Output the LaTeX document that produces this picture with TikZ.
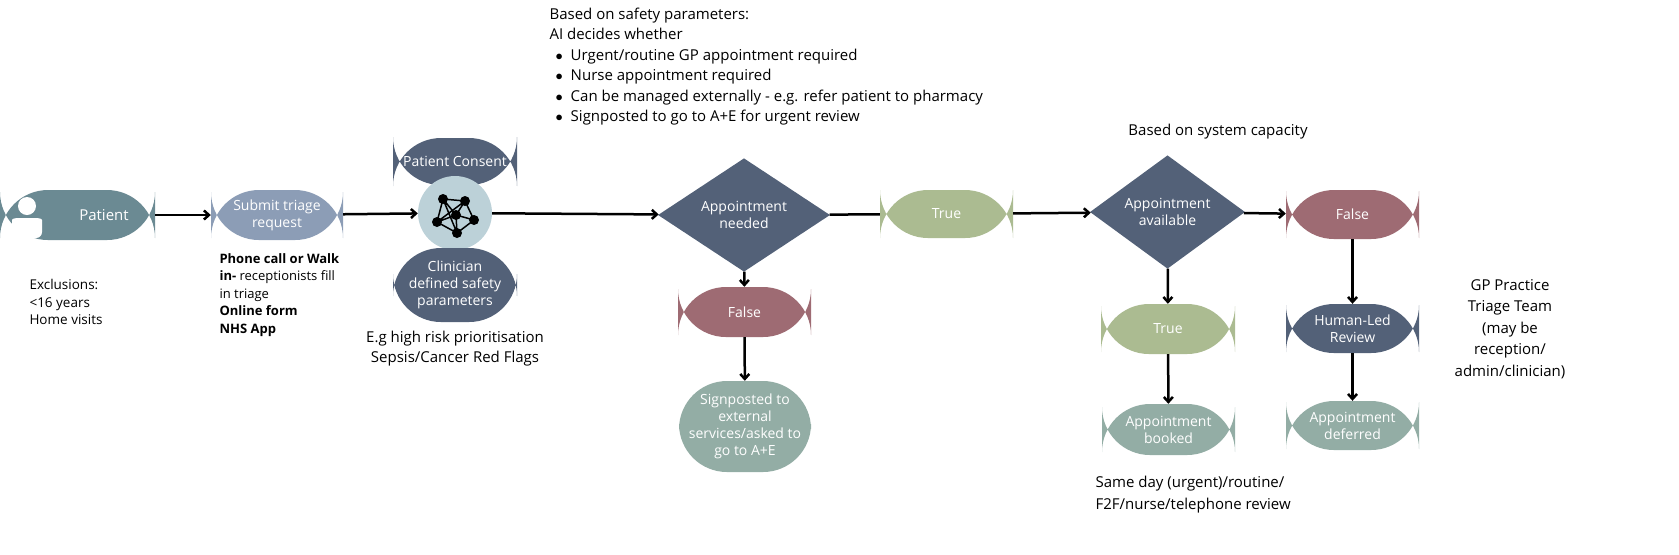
\documentclass[tikz,border=0pt]{standalone}
\usepackage{fontspec}
\setmainfont{Open Sans}
\usetikzlibrary{shapes.geometric,arrows.meta}
\definecolor{pat}{HTML}{6B8A93}
\definecolor{sub}{HTML}{8C9DB6}
\definecolor{dark}{HTML}{536178}
\definecolor{ai}{HTML}{BCD1D8}
\definecolor{grn}{HTML}{ABBB91}
\definecolor{red}{HTML}{9E6B73}
\definecolor{teal}{HTML}{93ADA5}
\begin{document}
\begin{tikzpicture}[x=0.5pt,y=-0.5pt,every node/.append style={transform shape},scale=1,
 pill/.style={rounded corners=24pt,text=white,align=center,font=\fontsize{14}{17}\selectfont,inner sep=0},
 dia/.style={diamond,fill=dark,text=white,align=center,font=\fontsize{14}{17}\selectfont,inner sep=0},
 arr/.style={line width=1.25pt,-{Straight Barb[length=2.5pt,width=4.5pt]}},
 ln/.style={line width=1.25pt},
 note/.style={font=\fontsize{13}{17}\selectfont,align=left}]
\begin{scope}[every node/.append style={scale=0.5}]
\useasboundingbox (0,0) rectangle (1679,554);
% nodes
\node[pill,fill=pat,minimum width=155pt,minimum height=50pt] (pt) at (77.5,215) {};
\node[text=white,font=\fontsize{15}{17}\selectfont] (ptt) at (104,215) {Patient};
\fill[white] (27,206) circle (9);
\fill[white,rounded corners=3pt] (12,238) -- (12,226) .. controls (12,218) and (18,218) .. (27,218) .. controls (36,218) and (42,218) .. (42,226) -- (42,238) -- cycle;
\node[pill,fill=sub,minimum width=132pt,minimum height=50pt] (sb) at (277,215) {Submit triage\\request};
\node[pill,fill=dark,minimum width=124pt,minimum height=47pt] (pc) at (455,161.5) {Patient Consent};
\node[circle,fill=ai,minimum size=74pt,inner sep=0] (ai) at (455,213) {};
\node[pill,fill=dark,minimum width=124pt,minimum height=74pt] (cl) at (455,285) {Clinician\\defined safety\\parameters};
% AI network icon
\coordinate (na) at (443,199);
\coordinate (nb) at (465,201);
\coordinate (nc) at (437,222);
\coordinate (nd) at (456,215);
\coordinate (ne) at (474,220);
\coordinate (nf) at (457,233);
\draw[line width=0.75pt] (na)--(nb)--(ne)--(nf)--(nc)--(na) (na)--(nd)--(nb) (nc)--(nd)--(ne) (nd)--(nf) (na)--(nf) (nb)--(nc);
\foreach \n in {na,nb,nc,nd,ne,nf} \fill (\n) circle (5);
\node[dia,minimum width=172pt,minimum height=74pt] (d1) at (744,215) {Appointment\\needed};
\node[pill,fill=grn,minimum width=133pt,minimum height=48pt] (t1) at (946.5,214) {True};
\node[dia,minimum width=155pt,minimum height=84pt] (d2) at (1167.5,212) {Appointment\\available};
\node[pill,fill=red,minimum width=133pt,minimum height=49pt] (f2) at (1352.5,214.5) {False};
\node[pill,fill=red,minimum width=133pt,minimum height=50pt] (f1) at (744.5,312) {False};
\node[pill,fill=teal,minimum width=132pt,minimum height=91pt] (sg) at (745,426.5) {Signposted to\\external\\services/asked to\\go to A+E};
\node[pill,fill=grn,minimum width=134pt,minimum height=50pt] (t2) at (1168,329) {True};
\node[pill,fill=teal,minimum width=133pt,minimum height=51pt] (bk) at (1168.5,429.5) {Appointment\\booked};
\node[pill,fill=dark,minimum width=133pt,minimum height=49pt] (hl) at (1352.5,328.5) {Human-Led\\Review};
\node[pill,fill=teal,minimum width=133pt,minimum height=49pt] (df) at (1352.5,425.5) {Appointment\\deferred};
% connectors
\draw[arr] (pt) -- (sb);
\draw[arr] (sb) -- (ai);
\draw[arr] (ai) -- (d1);
\draw[ln] (d1) -- (t1);
\draw[arr] (t1) -- (d2);
\draw[arr] (d2) -- (f2);
\draw[arr] (d1) -- (f1);
\draw[arr] (f1) -- (sg);
\draw[arr] (d2) -- (t2);
\draw[arr] (t2) -- (bk);
\draw[arr] (f2) -- (hl);
\draw[arr] (hl) -- (df);
% notes
\node[note,anchor=north west,font=\fontsize{13.5}{17.5}\selectfont] (n1) at (26,276) {Exclusions:\\<16 years\\Home visits};
\node[note,anchor=north west,font=\fontsize{13}{17.5}\selectfont] (n2) at (216,250) {\textbf{Phone call or Walk}\\\textbf{in-} receptionists fill\\in triage\\\textbf{Online form}\\\textbf{NHS App}};
\node[note,align=center,anchor=north,font=\fontsize{15}{20}\selectfont] (n3) at (455,328) {E.g high risk prioritisation\\Sepsis/Cancer Red Flags};
\node[note,anchor=north west,font=\fontsize{15}{20.5}\selectfont] (n4) at (546,4) {Based on safety parameters:\\AI decides whether\\
\hspace*{6pt}$\bullet$\hspace{8pt}Urgent/routine GP appointment required\\
\hspace*{6pt}$\bullet$\hspace{8pt}Nurse appointment required\\
\hspace*{6pt}$\bullet$\hspace{8pt}Can be managed externally - e.g. refer patient to pharmacy\\
\hspace*{6pt}$\bullet$\hspace{8pt}Signposted to go to A+E for urgent review};
\node[note,anchor=center,font=\fontsize{15}{17}\selectfont] (n5) at (1218,132) {Based on system capacity};
\node[note,align=center,font=\fontsize{15}{21.5}\selectfont] (n6) at (1510,329) {GP Practice\\Triage Team\\(may be\\reception/\\admin/clinician)};
\node[note,align=left,anchor=north west,font=\fontsize{15}{22}\selectfont] (n7) at (1092,473) {Same day (urgent)/routine/\\F2F/nurse/telephone review};
\end{scope}
\end{tikzpicture}
\end{document}
